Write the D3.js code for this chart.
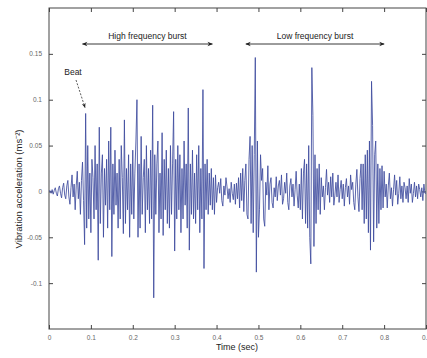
<!DOCTYPE html>
<html><head><meta charset="utf-8">
<script src="https://cdn.jsdelivr.net/npm/d3@7"></script>
<style>body{margin:0;background:#fff}svg{display:block}</style>
</head><body>
<script>
// sample interval (s) and acceleration values in thousandths of ms^-2
const sampleStep = 0.0025;
const accelMilli = [
  0, 1, -2, 2, -3, 1, 4, -2, -5, 3, 6, -2, -7, 4, 9, -4, -8, 6, 12, -6,
  -14, 4, 18, -6, 8, -20, 6, 22, -8, 10, -25, 12, 32, -10, -58, 85, -40, 50, -30, 20,
  -45, 35, 15, -30, 50, -20, 30, -75, 70, -35, 20, 40, -50, 25, -15, 35, -40, 55, -20, 70,
  -71, 30, -25, 45, -15, 20, -40, 35, -30, 50, 15, -46, 78, -35, 25, -20, 40, -50, 30, -25,
  45, -30, 20, 55, 100, -50, 30, -40, 60, -25, 15, 35, -45, 50, -20, 25, -35, 45, -30, 94,
  -116, 40, -25, 30, 55, -45, 20, -30, 64, -48, 35, -20, 45, -35, 25, -40, 50, -25, 30, 87,
  -65, 35, -30, 50, -20, 40, -45, 25, -30, 55, -15, 30, -40, 91, -64, 30, -25, 45, -30, 20,
  -35, 40, -20, 50, -45, 25, -30, 111, -84, 30, -20, 35, -25, 20, -15, 25, -20, 15, -25, 18,
  -12, 4, 10, -2, 14, -10, -16, 6, -4, 15, 5, -8, 3, -12, 10, -2, -9, 8, -14, 9,
  -8, 15, -18, 20, -10, 25, -22, 12, 30, -25, -30, 35, 60, -35, 50, -45, 40, 146, -88, 55,
  -50, -20, 40, 12, 25, -30, -38, 10, -4, 28, -20, 8, 15, -12, -18, 4, -6, 16, -10, 6,
  12, -4, 18, -14, -8, 10, -2, 20, -12, -20, 6, 14, -6, 8, -16, 2, 22, -4, -18, 8,
  -20, 25, -30, 20, 35, -35, 30, -40, 50, -50, -79, 135, 83, -60, 40, -35, 25, -20, 30, -25,
  15, -6, 6, -20, 4, 24, -4, 10, -12, 16, -6, 20, -15, -4, 10, -6, 18, -12, 2, 12,
  -8, 8, -16, 4, 14, -6, 6, -14, 18, 2, 10, -12, -20, 8, 24, -6, -22, 14, 30, -20,
  30, -35, 40, -30, 45, -45, 55, -64, 120, 72, -55, 40, 55, -40, 30, -35, 25, -20, 28, -18,
  22, -6, 8, -18, 6, 20, -8, 4, -16, 2, 18, -4, 12, -14, -2, 16, -8, 6, -12, 10,
  4, -8, 6, -12, 14, -2, 8, -12, -2, 10, -6, 6, -8, 8, 2, -6, 4, -10, 8, -2,
  -2
];
const xTicks = [0, 0.1, 0.2, 0.3, 0.4, 0.5, 0.6, 0.7, 0.8, 0.9];
const xTickLabels = ["0", "0.1", "0.2", "0.3", "0.4", "0.5", "0.6", "0.7", "0.8", "0.9"];
const yTicks = [-100, -50, 0, 50, 100, 150];
const yTickLabels = ["-0.1", "-0.05", "0", "0.05", "0.1", "0.15"];
const annotations = [
  {label: "High frequency burst", from: 0.08, to: 0.39},
  {label: "Low frequency burst", from: 0.47, to: 0.80}
];
const beat = {label: "Beat", t: 0.0883, v: 85};

const W = 427, H = 358;
const m = {l: 49, r: 1, t: 8, b: 29};
const svg = d3.select("body").append("svg").attr("width", W).attr("height", H);
const x = d3.scaleLinear().domain([0, 0.9]).range([m.l, W - m.r]);
const y = d3.scaleLinear().domain([-150, 200]).range([H - m.b, m.t]);

const data = accelMilli.map((v, i) => ({t: i * sampleStep, v}));

svg.append("rect").attr("x", x(0)).attr("y", y(200)).attr("width", x(0.9) - x(0)).attr("height", y(-150) - y(200))
  .attr("fill", "none").attr("stroke", "#444").attr("stroke-width", 1);

const fmtX = d => xTickLabels[xTicks.indexOf(d)];
const fmtY = d => yTickLabels[yTicks.indexOf(d)];
const styleAxis = (sel) => {
  sel.select(".domain").remove();
  sel.selectAll("line").attr("stroke", "#444");
  sel.selectAll("text").attr("fill", "#666").style("font-family", "Liberation Sans, Arial, sans-serif").style("font-size", "6.5px");
};
svg.append("g").attr("transform", `translate(0,${y(-150)})`)
  .call(d3.axisBottom(x).tickValues(xTicks).tickFormat(fmtX).tickSizeInner(-4).tickSizeOuter(0).tickPadding(6))
  .call(styleAxis);
svg.append("g").attr("transform", `translate(0,${y(200)})`)
  .call(d3.axisTop(x).tickValues(xTicks).tickFormat("").tickSizeInner(-4).tickSizeOuter(0))
  .call(styleAxis);
svg.append("g").attr("transform", `translate(${x(0)},0)`)
  .call(d3.axisLeft(y).tickValues(yTicks).tickFormat(fmtY).tickSizeInner(-4).tickSizeOuter(0).tickPadding(7))
  .call(styleAxis);
svg.append("g").attr("transform", `translate(${x(0.9)},0)`)
  .call(d3.axisRight(y).tickValues(yTicks).tickFormat("").tickSizeInner(-4).tickSizeOuter(0))
  .call(styleAxis);

// signal
svg.append("path").datum(data)
  .attr("d", d3.line().x(d => x(d.t)).y(d => y(d.v)))
  .attr("fill", "none").attr("stroke", "#3e4c9e").attr("stroke-width", 0.85).attr("stroke-linejoin", "round");

const defs = svg.append("defs");
defs.append("marker").attr("id", "ah").attr("viewBox", "0 0 10 10").attr("refX", 9).attr("refY", 5)
  .attr("markerWidth", 7).attr("markerHeight", 6).attr("orient", "auto-start-reverse")
  .append("path").attr("d", "M0,1 L10,5 L0,9 L3,5 Z").attr("fill", "#222");

const font = "Liberation Sans, Arial, sans-serif";
annotations.forEach(a => {
  svg.append("line").attr("x1", x(a.from)).attr("x2", x(a.to)).attr("y1", 44).attr("y2", 44)
    .attr("stroke", "#222").attr("stroke-width", 0.9)
    .attr("marker-start", "url(#ah)").attr("marker-end", "url(#ah)");
  svg.append("text").attr("x", (x(a.from) + x(a.to)) / 2).attr("y", 39).attr("text-anchor", "middle")
    .style("font-family", font).style("font-size", "8.5px").attr("fill", "#222").text(a.label);
});

svg.append("text").attr("x", 73).attr("y", 75).attr("text-anchor", "middle")
  .style("font-family", font).style("font-size", "8.5px").attr("fill", "#222").text(beat.label);
svg.append("line").attr("x1", 76).attr("y1", 80).attr("x2", x(beat.t) - 1).attr("y2", y(beat.v) - 6)
  .attr("stroke", "#333").attr("stroke-width", 0.8).attr("stroke-dasharray", "2,1.5")
  .attr("marker-end", "url(#ah)");

svg.append("text").attr("x", 237).attr("y", 350).attr("text-anchor", "middle")
  .style("font-family", font).style("font-size", "9px").attr("fill", "#222").text("Time (sec)");
svg.append("text").attr("transform", "translate(22,189) rotate(-90)").attr("text-anchor", "middle")
  .style("font-family", font).style("font-size", "9.5px").attr("fill", "#222")
  .text("Vibration acceleration (ms⁻²)");
</script>
</body></html>
